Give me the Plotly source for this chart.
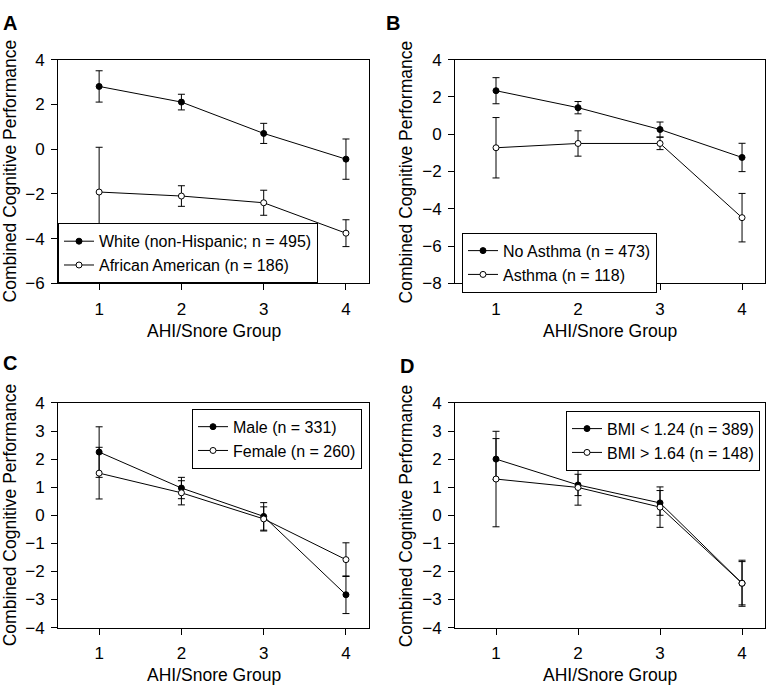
import plotly.graph_objects as go

# ---------------- data ----------------
groups = [1, 2, 3, 4]

# Panel A
a_white = [2.8, 2.1, 0.7, -0.45]
a_white_err = [0.7, 0.35, 0.45, 0.9]
a_aa = [-1.92, -2.1, -2.4, -3.76]
a_aa_err = [2.0, 0.46, 0.56, 0.6]

# Panel B
b_noasthma = [2.33, 1.42, 0.25, -1.25]
b_noasthma_err = [0.7, 0.33, 0.4, 0.76]
b_asthma = [-0.73, -0.5, -0.5, -4.48]
b_asthma_err = [1.62, 0.68, 0.33, 1.3]

# Panel C
c_male = [2.25, 0.97, -0.04, -2.83]
c_male_err = [0.9, 0.38, 0.49, 0.67]
c_female = [1.5, 0.8, -0.13, -1.58]
c_female_err = [0.92, 0.43, 0.43, 0.6]

# Panel D
d_low = [2.0, 1.08, 0.44, -2.42]
d_low_err = [0.73, 0.38, 0.44, 0.77]
d_high = [1.29, 0.99, 0.29, -2.42]
d_high_err = [1.7, 0.63, 0.72, 0.82]

names = {
    "a1": "White (non-Hispanic; n = 495)", "a2": "African American (n = 186)",
    "b1": "No Asthma (n = 473)", "b2": "Asthma (n = 118)",
    "c1": "Male (n = 331)", "c2": "Female (n = 260)",
    "d1": "BMI < 1.24 (n = 389)", "d2": "BMI > 1.64 (n = 148)",
}
panel_letters = ["A", "B", "C", "D"]
x_title = "AHI/Snore Group"
y_title = "Combined Cognitive Performance"

# ---------------- layout helpers ----------------
W, H = 767, 695
FONT = "Arial, Liberation Sans, Helvetica, sans-serif"

def px(x):
    return x / W

def py(y):
    return 1 - y / H

# panel pixel boxes (left, right, top, bottom)
boxes = [(58, 369, 52, 282), (455, 765, 52, 282), (58, 369, 405, 636), (455, 765, 405, 636)]
yranges = [[-6, 4], [-8, 4], [-4, 4], [-4, 4]]
ydticks = [2, 2, 1, 1]

fig = go.Figure()

series = [
    (a_white, a_white_err, a_aa, a_aa_err, "a"),
    (b_noasthma, b_noasthma_err, b_asthma, b_asthma_err, "b"),
    (c_male, c_male_err, c_female, c_female_err, "c"),
    (d_low, d_low_err, d_high, d_high_err, "d"),
]

# (x, y, xanchor, yanchor) in pixels
legend_pos = [(58, 282, "left", "bottom"), (462, 230, "left", "top"),
              (362, 411, "right", "top"), (760, 413, "right", "top")]

for i, (y1, e1, y2, e2, key) in enumerate(series):
    n = i + 1
    xa = "x" if n == 1 else f"x{n}"
    ya = "y" if n == 1 else f"y{n}"
    lg = "legend" if n == 1 else f"legend{n}"
    for yy, ee, filled, nm in [(y1, e1, True, names[key + "1"]), (y2, e2, False, names[key + "2"])]:
        fig.add_trace(go.Scatter(
            x=groups, y=yy, mode="lines+markers", name=nm,
            xaxis=xa, yaxis=ya, legend=lg,
            line=dict(color="black", width=1),
            marker=dict(symbol="circle", size=6,
                        color="black" if filled else "white",
                        line=dict(color="black", width=1)),
            error_y=dict(type="data", array=ee, visible=True,
                         color="black", thickness=1, width=3.5),
        ))

layout = dict(
    width=W, height=H,
    margin=dict(l=0, r=0, t=0, b=0),
    paper_bgcolor="white", plot_bgcolor="white",
    font=dict(family=FONT, color="black", size=15),
    showlegend=True,
)

annotations = []
for i, (l, r, t, b) in enumerate(boxes):
    n = i + 1
    xk = "xaxis" if n == 1 else f"xaxis{n}"
    yk = "yaxis" if n == 1 else f"yaxis{n}"
    axcommon = dict(showline=True, linecolor="black", linewidth=1, mirror=True,
                    ticks="outside", ticklen=6, tickcolor="black", tickwidth=1,
                    showgrid=False, zeroline=False,
                    tickfont=dict(family=FONT, size=17, color="black"))
    layout[xk] = dict(domain=[px(l), px(r)], range=[0.5, 4.28],
                      tickvals=groups, anchor="y" if n == 1 else f"y{n}",
                      ticklabelstandoff=4, **axcommon)
    layout[yk] = dict(domain=[py(b), py(t)], range=yranges[i], dtick=ydticks[i],
                      tick0=0, anchor="x" if n == 1 else f"x{n}",
                      ticklabelstandoff=3, **axcommon)
    lg = "legend" if n == 1 else f"legend{n}"
    lx, ly, xa_, ya_ = legend_pos[i]
    layout[lg] = dict(x=px(lx), y=py(ly), xanchor=xa_, yanchor=ya_,
                      xref="paper", yref="paper",
                      bordercolor="black", borderwidth=1, bgcolor="white",
                      font=dict(family=FONT, size=16, color="black"),
                      itemwidth=30, tracegroupgap=0)
    # axis titles
    cx = (l + r) / 2
    cy = (t + b) / 2
    annotations.append(dict(text=x_title, x=px(cx), y=py(b + 49), xref="paper", yref="paper",
                            xanchor="center", yanchor="middle", showarrow=False,
                            font=dict(family=FONT, size=17.5, color="black")))
    ytx = 10 if l < 200 else 406
    annotations.append(dict(text=y_title, x=px(ytx), y=py(cy), xref="paper", yref="paper",
                            xanchor="center", yanchor="middle", showarrow=False, textangle=-90,
                            font=dict(family=FONT, size=17.5, color="black")))

letter_pos = [(10, 14), (393, 14), (10, 364), (407, 367)]
for letter, (lx, ly) in zip(panel_letters, letter_pos):
    annotations.append(dict(text=f"<b>{letter}</b>", x=px(lx), y=py(ly), xref="paper", yref="paper",
                            xanchor="center", yanchor="middle", showarrow=False,
                            font=dict(family=FONT, size=20, color="black")))

layout["annotations"] = annotations
fig.update_layout(**layout)
fig.write_html("out.html",
               config={"displayModeBar": False},
               post_script="document.body.style.margin='0';document.body.style.overflow='hidden';")
